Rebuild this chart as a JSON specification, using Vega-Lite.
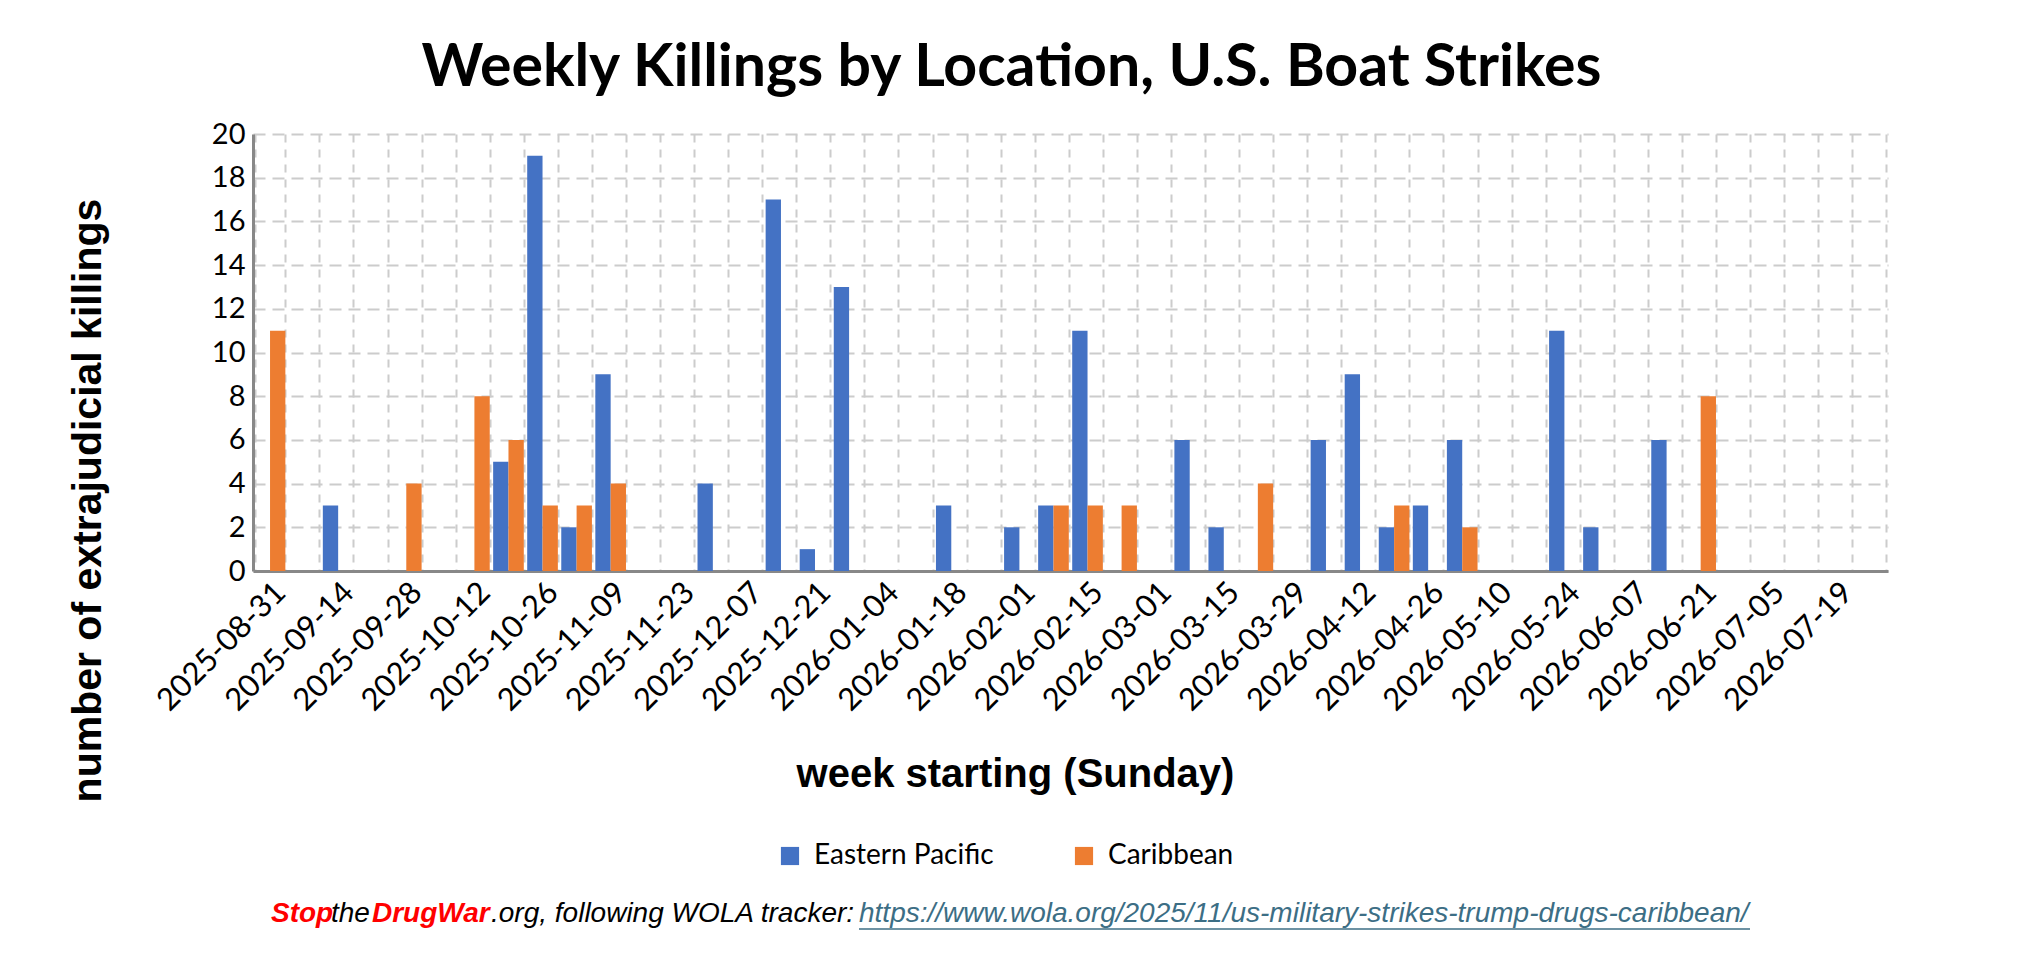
{
  "$schema": "https://vega.github.io/schema/vega-lite/v6.json",
  "autosize": {"type": "none"},
  "padding": {"left": 253, "top": 134, "right": 134, "bottom": 401},
  "width": 1635,
  "height": 437,
  "background": "white",
  "title": {
    "text": "Weekly Killings by Location, U.S. Boat Strikes",
    "font": "Lato", "fontSize": 59, "fontWeight": "bold", "color": "#000",
    "anchor": "middle", "dx": -59, "offset": 22
  },
  "data": {
    "values": [
      {"week": "2025-08-31", "location": "Caribbean", "killings": 11},
      {"week": "2025-09-14", "location": "Eastern Pacific", "killings": 3},
      {"week": "2025-09-28", "location": "Caribbean", "killings": 4},
      {"week": "2025-10-12", "location": "Caribbean", "killings": 8},
      {"week": "2025-10-19", "location": "Eastern Pacific", "killings": 5},
      {"week": "2025-10-19", "location": "Caribbean", "killings": 6},
      {"week": "2025-10-26", "location": "Eastern Pacific", "killings": 19},
      {"week": "2025-10-26", "location": "Caribbean", "killings": 3},
      {"week": "2025-11-02", "location": "Eastern Pacific", "killings": 2},
      {"week": "2025-11-02", "location": "Caribbean", "killings": 3},
      {"week": "2025-11-09", "location": "Eastern Pacific", "killings": 9},
      {"week": "2025-11-09", "location": "Caribbean", "killings": 4},
      {"week": "2025-11-30", "location": "Eastern Pacific", "killings": 4},
      {"week": "2025-12-14", "location": "Eastern Pacific", "killings": 17},
      {"week": "2025-12-21", "location": "Eastern Pacific", "killings": 1},
      {"week": "2025-12-28", "location": "Eastern Pacific", "killings": 13},
      {"week": "2026-01-18", "location": "Eastern Pacific", "killings": 3},
      {"week": "2026-02-01", "location": "Eastern Pacific", "killings": 2},
      {"week": "2026-02-08", "location": "Eastern Pacific", "killings": 3},
      {"week": "2026-02-08", "location": "Caribbean", "killings": 3},
      {"week": "2026-02-15", "location": "Eastern Pacific", "killings": 11},
      {"week": "2026-02-15", "location": "Caribbean", "killings": 3},
      {"week": "2026-02-22", "location": "Caribbean", "killings": 3},
      {"week": "2026-03-08", "location": "Eastern Pacific", "killings": 6},
      {"week": "2026-03-15", "location": "Eastern Pacific", "killings": 2},
      {"week": "2026-03-22", "location": "Caribbean", "killings": 4},
      {"week": "2026-04-05", "location": "Eastern Pacific", "killings": 6},
      {"week": "2026-04-12", "location": "Eastern Pacific", "killings": 9},
      {"week": "2026-04-19", "location": "Eastern Pacific", "killings": 2},
      {"week": "2026-04-19", "location": "Caribbean", "killings": 3},
      {"week": "2026-04-26", "location": "Eastern Pacific", "killings": 3},
      {"week": "2026-05-03", "location": "Eastern Pacific", "killings": 6},
      {"week": "2026-05-03", "location": "Caribbean", "killings": 2},
      {"week": "2026-05-24", "location": "Eastern Pacific", "killings": 11},
      {"week": "2026-05-31", "location": "Eastern Pacific", "killings": 2},
      {"week": "2026-06-14", "location": "Eastern Pacific", "killings": 6},
      {"week": "2026-06-21", "location": "Caribbean", "killings": 8}
    ]
  },
  "layer": [
    {
      "mark": {"type": "bar"},
      "encoding": {
        "x": {
          "field": "week", "type": "ordinal",
          "scale": {
            "domain": ["2025-08-31","2025-09-07","2025-09-14","2025-09-21","2025-09-28","2025-10-05","2025-10-12","2025-10-19","2025-10-26","2025-11-02","2025-11-09","2025-11-16","2025-11-23","2025-11-30","2025-12-07","2025-12-14","2025-12-21","2025-12-28","2026-01-04","2026-01-11","2026-01-18","2026-01-25","2026-02-01","2026-02-08","2026-02-15","2026-02-22","2026-03-01","2026-03-08","2026-03-15","2026-03-22","2026-03-29","2026-04-05","2026-04-12","2026-04-19","2026-04-26","2026-05-03","2026-05-10","2026-05-17","2026-05-24","2026-05-31","2026-06-07","2026-06-14","2026-06-21","2026-06-28","2026-07-05","2026-07-12","2026-07-19","2026-07-26"],
            "paddingInner": 0.1, "paddingOuter": 0.05
          },
          "axis": {
            "title": "week starting (Sunday)",
            "titleFont": "Liberation Sans", "titleFontSize": 40, "titleFontWeight": "bold", "titleColor": "#000",
            "titleX": 762, "titleY": 203, "titleBaseline": "middle",
            "labelExpr": "indexof(['2025-08-31','2025-09-14','2025-09-28','2025-10-12','2025-10-26','2025-11-09','2025-11-23','2025-12-07','2025-12-21','2026-01-04','2026-01-18','2026-02-01','2026-02-15','2026-03-01','2026-03-15','2026-03-29','2026-04-12','2026-04-26','2026-05-10','2026-05-24','2026-06-07','2026-06-21','2026-07-05','2026-07-19'], datum.value) >= 0 ? datum.value : ''",
            "labelAngle": -45, "labelAlign": "right", "labelBaseline": "top",
            "labelFont": "Lato", "labelFontSize": 31, "labelColor": "#000", "labelPadding": 6, "labelOverlap": false,
            "ticks": false, "domainColor": "#888", "domainWidth": 3,
            "grid": true, "tickBand": "extent", "gridColor": "#ccc", "gridDash": [8, 7], "gridWidth": 2
          }
        },
        "xOffset": {"field": "location", "type": "nominal", "scale": {"domain": ["Eastern Pacific", "Caribbean"]}},
        "y": {
          "field": "killings", "type": "quantitative",
          "scale": {"domain": [0, 20]},
          "axis": {
            "title": "number of extrajudicial killings",
            "titleFont": "Liberation Sans", "titleFontSize": 41, "titleFontWeight": "bold", "titleColor": "#000",
            "titleAngle": -90, "titleX": -165, "titleY": 366, "titleAlign": "center", "titleBaseline": "middle",
            "values": [0, 2, 4, 6, 8, 10, 12, 14, 16, 18, 20],
            "labelFont": "Lato", "labelFontSize": 29, "labelColor": "#000", "labelPadding": 8,
            "ticks": false, "domainColor": "#888", "domainWidth": 3,
            "gridColor": "#ccc", "gridDash": [12, 7], "gridWidth": 2
          }
        },
        "color": {
          "field": "location", "type": "nominal",
          "scale": {"domain": ["Eastern Pacific", "Caribbean"], "range": ["#4472C4", "#ED7D31"]},
          "legend": {
            "title": null, "orient": "none", "legendX": 523, "legendY": 708,
            "direction": "horizontal", "columns": 2, "columnPadding": 76,
            "symbolType": "square", "symbolSize": 330, "symbolStrokeWidth": 0,
            "labelFont": "Lato", "labelFontSize": 28, "labelColor": "#000", "labelOffset": 10, "labelLimit": 400
          }
        }
      }
    },
    {
      "data": {"values": [{"t": "Stop", "o": 18}, {"t": "DrugWar", "o": 119}]},
      "mark": {"type": "text", "font": "Liberation Sans", "fontSize": 28, "fontStyle": "italic", "fontWeight": "bold", "color": "#FF0000", "align": "left", "baseline": "middle", "y": 780},
      "encoding": {
        "x": {"field": "o", "type": "quantitative", "scale": null},
        "text": {"field": "t"}
      }
    },
    {
      "data": {"values": [{"t": "the", "o": 78}, {"t": ".org, following WOLA tracker:", "o": 238}]},
      "mark": {"type": "text", "font": "Liberation Sans", "fontSize": 28, "fontStyle": "italic", "color": "#000", "align": "left", "baseline": "middle", "y": 780},
      "encoding": {
        "x": {"field": "o", "type": "quantitative", "scale": null},
        "text": {"field": "t"}
      }
    },
    {
      "data": {"values": [{"t": "https://www.wola.org/2025/11/us-military-strikes-trump-drugs-caribbean/", "o": 606}]},
      "mark": {"type": "text", "font": "Liberation Sans", "fontSize": 28, "fontStyle": "italic", "color": "#3C6E85", "align": "left", "baseline": "middle", "y": 780},
      "encoding": {
        "x": {"field": "o", "type": "quantitative", "scale": null},
        "text": {"field": "t"}
      }
    },
    {
      "data": {"values": [{"a": 606, "b": 1497}]},
      "mark": {"type": "rule", "color": "#3C6E85", "strokeWidth": 1.5, "y": 795},
      "encoding": {
        "x": {"field": "a", "type": "quantitative", "scale": null},
        "x2": {"field": "b"}
      }
    }
  ],
  "resolve": {"scale": {"x": "independent", "color": "independent"}},
  "config": {"view": {"stroke": null}}
}
